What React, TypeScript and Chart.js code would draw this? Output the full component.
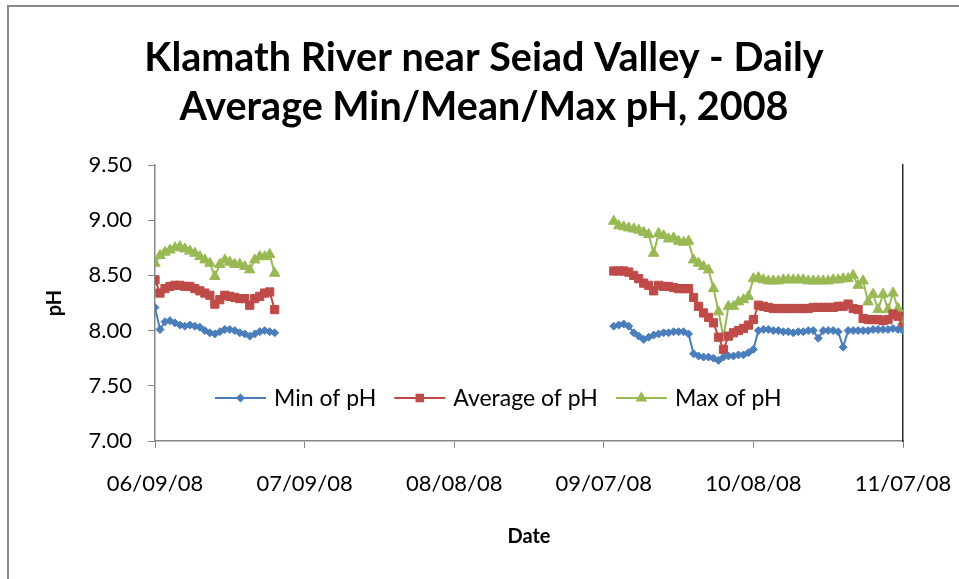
import React, { useEffect, useRef } from "react";
import { Chart, registerables } from "chart.js";
import { drawPoint } from "chart.js/helpers";

Chart.register(...registerables);

const titleLines = ["Klamath River near Seiad Valley - Daily", "Average Min/Mean/Max pH, 2008"];
const seriesNames = ["Min of pH", "Average of pH", "Max of pH"];

// x values are days since 06/09/08
const tickDays = [0, 30, 60, 90, 120, 150];
const tickLabels = ["06/09/08", "07/09/08", "08/08/08", "09/07/08", "10/08/08", "11/07/08"];

const seg1StartDay = 0;
const seg2StartDay = 92;

// June segment (06/09 .. 07/03)
const minPH1 = [8.21, 8.01, 8.08, 8.09, 8.07, 8.05, 8.04, 8.05, 8.04, 8.03, 8.0, 7.98, 7.97, 7.99, 8.01, 8.01, 8.0, 7.98, 7.97, 7.95, 7.97, 7.99, 8.0, 7.99, 7.98];
const avgPH1 = [8.46, 8.34, 8.38, 8.4, 8.41, 8.41, 8.4, 8.4, 8.38, 8.36, 8.34, 8.32, 8.24, 8.28, 8.32, 8.31, 8.3, 8.29, 8.29, 8.23, 8.29, 8.31, 8.34, 8.35, 8.19];
const maxPH1 = [8.61, 8.68, 8.71, 8.73, 8.75, 8.76, 8.74, 8.72, 8.7, 8.67, 8.64, 8.61, 8.49, 8.6, 8.64, 8.62, 8.6, 8.6, 8.58, 8.55, 8.64, 8.67, 8.67, 8.69, 8.52];

// September - November segment (09/09 .. 11/07)
const minPH2 = [8.04, 8.05, 8.06, 8.04, 7.98, 7.95, 7.92, 7.94, 7.96, 7.97, 7.98, 7.98, 7.99, 7.99, 7.99, 7.97,
  7.79, 7.77, 7.76, 7.76, 7.75, 7.73, 7.76, 7.77, 7.77, 7.78, 7.78, 7.8, 7.83,
  8.0, 8.01, 8.01, 8.0, 8.0, 7.99, 7.99, 7.98, 7.99, 7.99, 8.0, 8.0, 7.93, 8.0, 8.0, 8.0, 7.99, 7.85,
  8.0, 8.0, 8.0, 8.0, 8.0, 8.01, 8.01, 8.01, 8.01, 8.02, 8.01, 8.0];
const avgPH2 = [8.54, 8.54, 8.54, 8.53, 8.5, 8.47, 8.43, 8.41, 8.36, 8.41, 8.4, 8.4, 8.39, 8.38, 8.38, 8.38,
  8.3, 8.22, 8.16, 8.12, 8.07, 7.94, 7.83, 7.95, 7.98, 8.0, 8.02, 8.05, 8.1,
  8.23, 8.22, 8.21, 8.2, 8.2, 8.2, 8.2, 8.2, 8.2, 8.2, 8.2, 8.21, 8.21, 8.21, 8.21, 8.21, 8.22, 8.22,
  8.24, 8.2, 8.19, 8.11, 8.1, 8.1, 8.1, 8.09, 8.1, 8.15, 8.13, 8.03];
const maxPH2 = [8.99, 8.95, 8.94, 8.93, 8.92, 8.91, 8.89, 8.87, 8.7, 8.88, 8.86, 8.83, 8.84, 8.81, 8.8, 8.81,
  8.64, 8.61, 8.58, 8.55, 8.38, 8.17, 7.94, 8.22, 8.22, 8.26, 8.28, 8.31, 8.47,
  8.48, 8.46, 8.45, 8.45, 8.45, 8.46, 8.46, 8.46, 8.46, 8.46, 8.45, 8.45, 8.45, 8.45, 8.45, 8.46, 8.46, 8.47,
  8.47, 8.5, 8.41, 8.45, 8.26, 8.33, 8.19, 8.33, 8.19, 8.34, 8.2, 8.08];

const colors = ["#4A7EBB", "#BE4B48", "#98B954"];
const pointStyles = ["rectRot", "rect", "triangle"];
const pointRadii = [4, 5.8, 6];

const FONT = "Lato, 'Open Sans', sans-serif";

function buildPoints(seg1: number[], seg2: number[]) {
  const pts: { x: number; y: number | null }[] = [];
  seg1.forEach((v, i) => pts.push({ x: seg1StartDay + i, y: v }));
  pts.push({ x: seg1StartDay + seg1.length + 1, y: null });
  seg2.forEach((v, i) => pts.push({ x: seg2StartDay + i, y: v }));
  return pts;
}

const inlineLegend = {
  id: "inlineLegend",
  afterDatasetsDraw(chart: any) {
    const { ctx, chartArea } = chart;
    ctx.save();
    ctx.font = `23px ${FONT}`;
    ctx.textBaseline = "middle";
    let x = chartArea.left + 60;
    const y = chartArea.bottom - 43;
    chart.data.datasets.forEach((ds: any) => {
      ctx.strokeStyle = ds.borderColor;
      ctx.lineWidth = 2;
      ctx.beginPath();
      ctx.moveTo(x, y);
      ctx.lineTo(x + 51, y);
      ctx.stroke();
      ctx.fillStyle = ds.pointBackgroundColor;
      ctx.strokeStyle = ds.pointBorderColor;
      drawPoint(ctx, { pointStyle: ds.pointStyle, rotation: 0, radius: ds.pointRadius * 0.8, borderWidth: 1 }, x + 25.5, y);
      ctx.fillStyle = "#000";
      ctx.fillText(ds.label, x + 59, y + 1);
      x += 59 + ctx.measureText(ds.label).width + 18;
    });
    ctx.restore();
  },
};

export default function App() {
  const canvasRef = useRef<HTMLCanvasElement | null>(null);

  useEffect(() => {
    if (!canvasRef.current) return;
    const seriesData = [
      buildPoints(minPH1, minPH2),
      buildPoints(avgPH1, avgPH2),
      buildPoints(maxPH1, maxPH2),
    ];
    const chart = new Chart(canvasRef.current, {
      type: "line",
      data: {
        datasets: seriesNames.map((name, i) => ({
          label: name,
          data: seriesData[i],
          borderColor: colors[i],
          backgroundColor: colors[i],
          pointBackgroundColor: colors[i],
          pointBorderColor: colors[i],
          pointStyle: pointStyles[i],
          pointRadius: pointRadii[i],
          pointBorderWidth: 1,
          borderWidth: 2,
          spanGaps: false,
          tension: 0,
        })),
      },
      options: {
        animation: false,
        responsive: false,
        devicePixelRatio: 1,
        layout: { padding: { left: 0, right: 0, top: 0, bottom: 0 } },
        plugins: {
          legend: { display: false },
          tooltip: { enabled: false },
          title: {
            display: true,
            text: titleLines,
            color: "#000",
            font: { family: FONT, size: 39.5, weight: "bold", lineHeight: 49 / 39.5 },
            padding: { top: 26.5, bottom: 33.5 },
          },
        },
        scales: {
          x: {
            type: "linear",
            min: tickDays[0],
            max: tickDays[tickDays.length - 1],
            afterBuildTicks: (scale: any) => {
              scale.ticks = tickDays.map((v) => ({ value: v }));
            },
            afterFit: (scale: any) => {
              scale.height = 138;
              scale.paddingLeft = 0;
              scale.paddingRight = 0;
            },
            ticks: {
              color: "#000",
              font: { family: FONT, size: 22 },
              padding: 23,
              maxRotation: 0,
              autoSkip: false,
              callback: (value: any) => {
                const idx = tickDays.indexOf(Number(value));
                return idx >= 0 ? tickLabels[idx] : "";
              },
            },
            grid: { display: true, drawOnChartArea: false, drawTicks: true, tickLength: 7, color: "#868686" },
            border: { display: true, color: "#868686", width: 1.5 },
            title: {
              display: true,
              text: "Date",
              color: "#000",
              font: { family: FONT, size: 20, weight: "bold" },
              padding: { top: 0, bottom: 30 },
            },
          },
          y: {
            type: "linear",
            position: "left",
            min: 7,
            max: 9.5,
            afterFit: (scale: any) => {
              scale.width = 146;
            },
            ticks: {
              stepSize: 0.5,
              color: "#000",
              font: { family: FONT, size: 22 },
              padding: 16,
              callback: (value: any) => Number(value).toFixed(2),
            },
            grid: { display: true, drawOnChartArea: false, drawTicks: true, tickLength: 7, color: "#868686" },
            border: { display: true, color: "#868686", width: 1.5 },
            title: {
              display: true,
              text: "pH",
              color: "#000",
              font: { family: FONT, size: 20, weight: "bold" },
              padding: { top: 34, bottom: 0 },
            },
          },
          yRight: {
            type: "linear",
            position: "right",
            min: 7,
            max: 9.5,
            afterFit: (scale: any) => {
              scale.width = 56;
            },
            ticks: { display: false },
            grid: { display: false },
            border: { display: true, color: "#2b2b2b", width: 1.5 },
          },
        },
      },
      plugins: [inlineLegend],
    } as any);
    return () => chart.destroy();
  }, []);

  return (
    <div
      style={{
        position: "fixed",
        left: 7,
        top: 5,
        width: 950,
        height: 572,
        borderLeft: "2px solid #878787",
        borderTop: "2px solid #878787",
        background: "#fff",
        overflow: "hidden",
      }}
    >
      <canvas ref={canvasRef} width={950} height={572} style={{ display: "block", width: 950, height: 572 }} />
    </div>
  );
}
